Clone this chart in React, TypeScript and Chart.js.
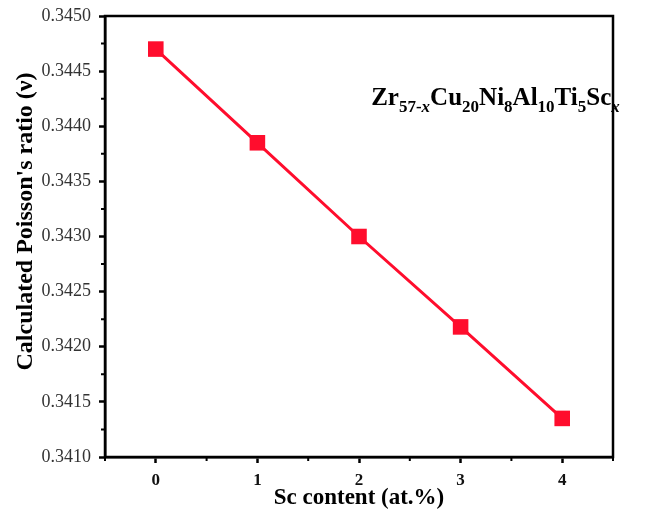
import React, { useEffect, useRef } from "react";
import { Chart, registerables } from "chart.js";

Chart.register(...registerables);

const scContent = [0, 1, 2, 3, 4];
const poissonRatio = [0.3447, 0.34385, 0.343, 0.34218, 0.34135];
const xTicks = [0, 1, 2, 3, 4];
const yTicks = [0.341, 0.3415, 0.342, 0.3425, 0.343, 0.3435, 0.344, 0.3445, 0.345];
const xMinor = [-0.5, 0.5, 1.5, 2.5, 3.5, 4.5];
const yMinor = [0.34125, 0.34175, 0.34225, 0.34275, 0.34325, 0.34375, 0.34425, 0.34475];
const yTitle = "Calculated Poisson's ratio (ν)";
const xTitle = "Sc content (at.%)";

const FONT = "'Liberation Serif', 'Times New Roman', serif";
const RED = "#ff0d2d";

const framePlugin = {
  id: "frame",
  afterDraw(chart: any) {
    const { ctx, chartArea } = chart;
    const xs = chart.scales.x;
    const ys = chart.scales.y;
    ctx.save();
    ctx.strokeStyle = "#000";
    ctx.lineWidth = 2.5;
    ctx.strokeRect(chartArea.left, chartArea.top, chartArea.right - chartArea.left, chartArea.bottom - chartArea.top);
    ctx.lineWidth = 2;
    ctx.beginPath();
    xMinor.forEach((v) => {
      const px = xs.getPixelForValue(v);
      ctx.moveTo(px, chartArea.bottom);
      ctx.lineTo(px, chartArea.bottom + 4);
    });
    yMinor.forEach((v) => {
      const py = ys.getPixelForValue(v);
      ctx.moveTo(chartArea.left, py);
      ctx.lineTo(chartArea.left - 4, py);
    });
    ctx.stroke();

    // y axis title
    ctx.save();
    ctx.translate(26, (chartArea.top + chartArea.bottom) / 2 - 15);
    ctx.rotate(-Math.PI / 2);
    ctx.font = `bold 24px ${FONT}`;
    ctx.fillStyle = "#000";
    ctx.textAlign = "center";
    ctx.textBaseline = "middle";
    ctx.fillText(yTitle, 0, 0);
    ctx.restore();

    // annotation with subscripts
    const parts: [string, boolean, boolean][] = [
      ["Zr", false, false],
      ["57-", true, false],
      ["x", true, true],
      ["Cu", false, false],
      ["20", true, false],
      ["Ni", false, false],
      ["8", true, false],
      ["Al", false, false],
      ["10", true, false],
      ["Ti", false, false],
      ["5", true, false],
      ["Sc", false, false],
      ["x", true, true],
    ];
    let x = xs.getPixelForValue(2.12);
    const base = ys.getPixelForValue(0.34419);
    ctx.fillStyle = "#000";
    ctx.textBaseline = "alphabetic";
    ctx.textAlign = "left";
    parts.forEach(([t, sub, ital]) => {
      ctx.font = `${ital ? "italic " : ""}bold ${sub ? 17 : 25}px ${FONT}`;
      ctx.fillText(t, x, base + (sub ? 7 : 0));
      x += ctx.measureText(t).width;
    });
    ctx.restore();
  },
};

export default function App() {
  const ref = useRef<HTMLCanvasElement>(null);
  useEffect(() => {
    document.body.style.margin = "0";
    const chart = new Chart(ref.current!, {
      type: "line",
      data: {
        datasets: [
          {
            data: scContent.map((x, i) => ({ x, y: poissonRatio[i] })),
            borderColor: RED,
            backgroundColor: RED,
            borderWidth: 3,
            pointStyle: "rect",
            pointRadius: 11,
            pointBorderWidth: 0,
            pointBackgroundColor: RED,
          },
        ],
      },
      options: {
        animation: false,
        responsive: false,
        layout: { padding: { left: 0, top: 16, right: 47, bottom: 0 } },
        plugins: { legend: { display: false }, tooltip: { enabled: false } },
        scales: {
          x: {
            type: "linear",
            min: -0.5,
            max: 4.5,
            afterBuildTicks: (s: any) => {
              s.ticks = xTicks.map((v) => ({ value: v }));
            },
            afterFit: (s: any) => {
              s.height = 58;
              s.paddingLeft = 0;
              s.paddingRight = 0;
            },
            grid: { drawOnChartArea: false, tickLength: 6, tickWidth: 2.5, tickColor: "#000" },
            border: { display: true, color: "#000", width: 2.5 },
            ticks: {
              padding: 7,
              color: "#111",
              font: { family: FONT, size: 17, weight: "bold" },
              callback: (v: any) => String(v),
            },
            title: {
              display: true,
              text: xTitle,
              color: "#000",
              font: { family: FONT, size: 23, weight: "bold" },
              padding: { top: 0, bottom: 3 },
            },
          },
          y: {
            type: "linear",
            min: 0.341,
            max: 0.345,
            afterBuildTicks: (s: any) => {
              s.ticks = yTicks.map((v) => ({ value: v }));
            },
            afterFit: (s: any) => {
              s.width = 105;
              s.paddingTop = 0;
              s.paddingBottom = 0;
            },
            grid: { drawOnChartArea: false, tickLength: 6, tickWidth: 2.5, tickColor: "#000" },
            border: { display: true, color: "#000", width: 2.5 },
            ticks: {
              padding: 8,
              color: "#333",
              font: { family: FONT, size: 18 },
              callback: (v: any) => Number(v).toFixed(4),
            },
          },
        },
      },
      plugins: [framePlugin],
    } as any);
    return () => chart.destroy();
  }, []);
  return (
    <div style={{ position: "absolute", left: 0, top: 0, width: 660, height: 515, background: "#fff" }}>
      <canvas ref={ref} width={660} height={515} />
    </div>
  );
}
